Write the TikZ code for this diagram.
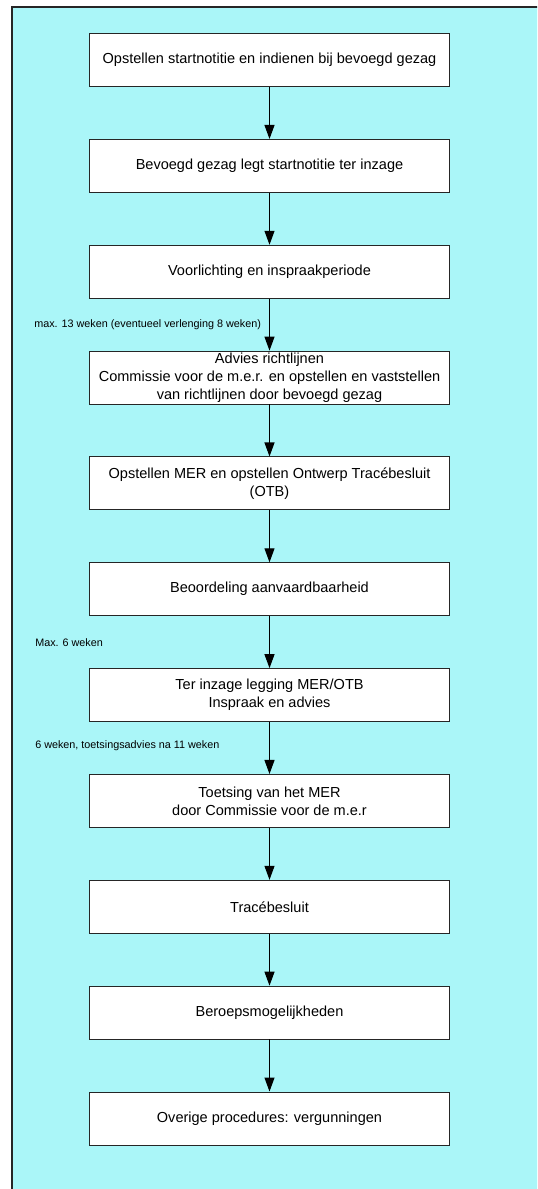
\documentclass[tikz,border=0pt]{standalone}
\usepackage{fontspec}
\setmainfont{Liberation Sans}
\usetikzlibrary{positioning,arrows.meta}
\definecolor{achtergrond}{RGB}{170,246,248}

\begin{document}
\begin{tikzpicture}[x=0.75pt,y=-0.75pt,
    stap/.style={draw=black!85,line width=0.6pt,fill=white,
        minimum width=270pt,minimum height=39.75pt,
        inner xsep=2pt,inner ysep=0pt,align=center,
        font=\fontsize{10.9}{13.5}\selectfont},
    pijl/.style={-{Triangle[width=7.5pt,length=10.5pt]},line width=0.8pt},
    termijn/.style={anchor=west,inner sep=0pt,font=\fontsize{8.1}{9}\selectfont},
    node distance=39.03pt]
\useasboundingbox (0,0) rectangle (537,1189);
\clip (0,0) rectangle (537,1189);
% achtergrondvlak
\filldraw[fill=achtergrond,draw=black!85,line width=0.8pt] (12,7) rectangle (560,1210);
% stappen
\node[stap] (b1) at (269.5,60) {Opstellen startnotitie en indienen bij bevoegd gezag};
\node[stap,below=of b1] (b2) {Bevoegd gezag legt startnotitie ter inzage};
\node[stap,below=of b2] (b3) {Voorlichting en inspraakperiode};
\node[stap,below=of b3] (b4) {Advies richtlijnen\\Commissie voor de m.e.r. en opstellen en vaststellen\\van richtlijnen door bevoegd gezag};
\node[stap,below=of b4] (b5) {Opstellen MER en opstellen Ontwerp Tracébesluit\\(OTB)};
\node[stap,below=of b5] (b6) {Beoordeling aanvaardbaarheid};
\node[stap,below=of b6] (b7) {Ter inzage legging MER/OTB\\Inspraak en advies};
\node[stap,below=of b7] (b8) {Toetsing van het MER\\door Commissie voor de m.e.r};
\node[stap,below=of b8] (b9) {Tracébesluit};
\node[stap,below=of b9] (b10) {Beroepsmogelijkheden};
\node[stap,below=of b10] (b11) {Overige procedures: vergunningen};
\foreach \x [count=\i] in {2,3,...,11}
    \draw[pijl] (b\i) -- (b\x);
% termijnen
\node[termijn] (t1) at (34,325) {max. 13 weken (eventueel verlenging 8 weken)};
\node[termijn] (t2) at (35,643) {Max. 6 weken};
\node[termijn] (t3) at (35,746) {6 weken, toetsingsadvies na 11 weken};
\end{tikzpicture}
\end{document}
